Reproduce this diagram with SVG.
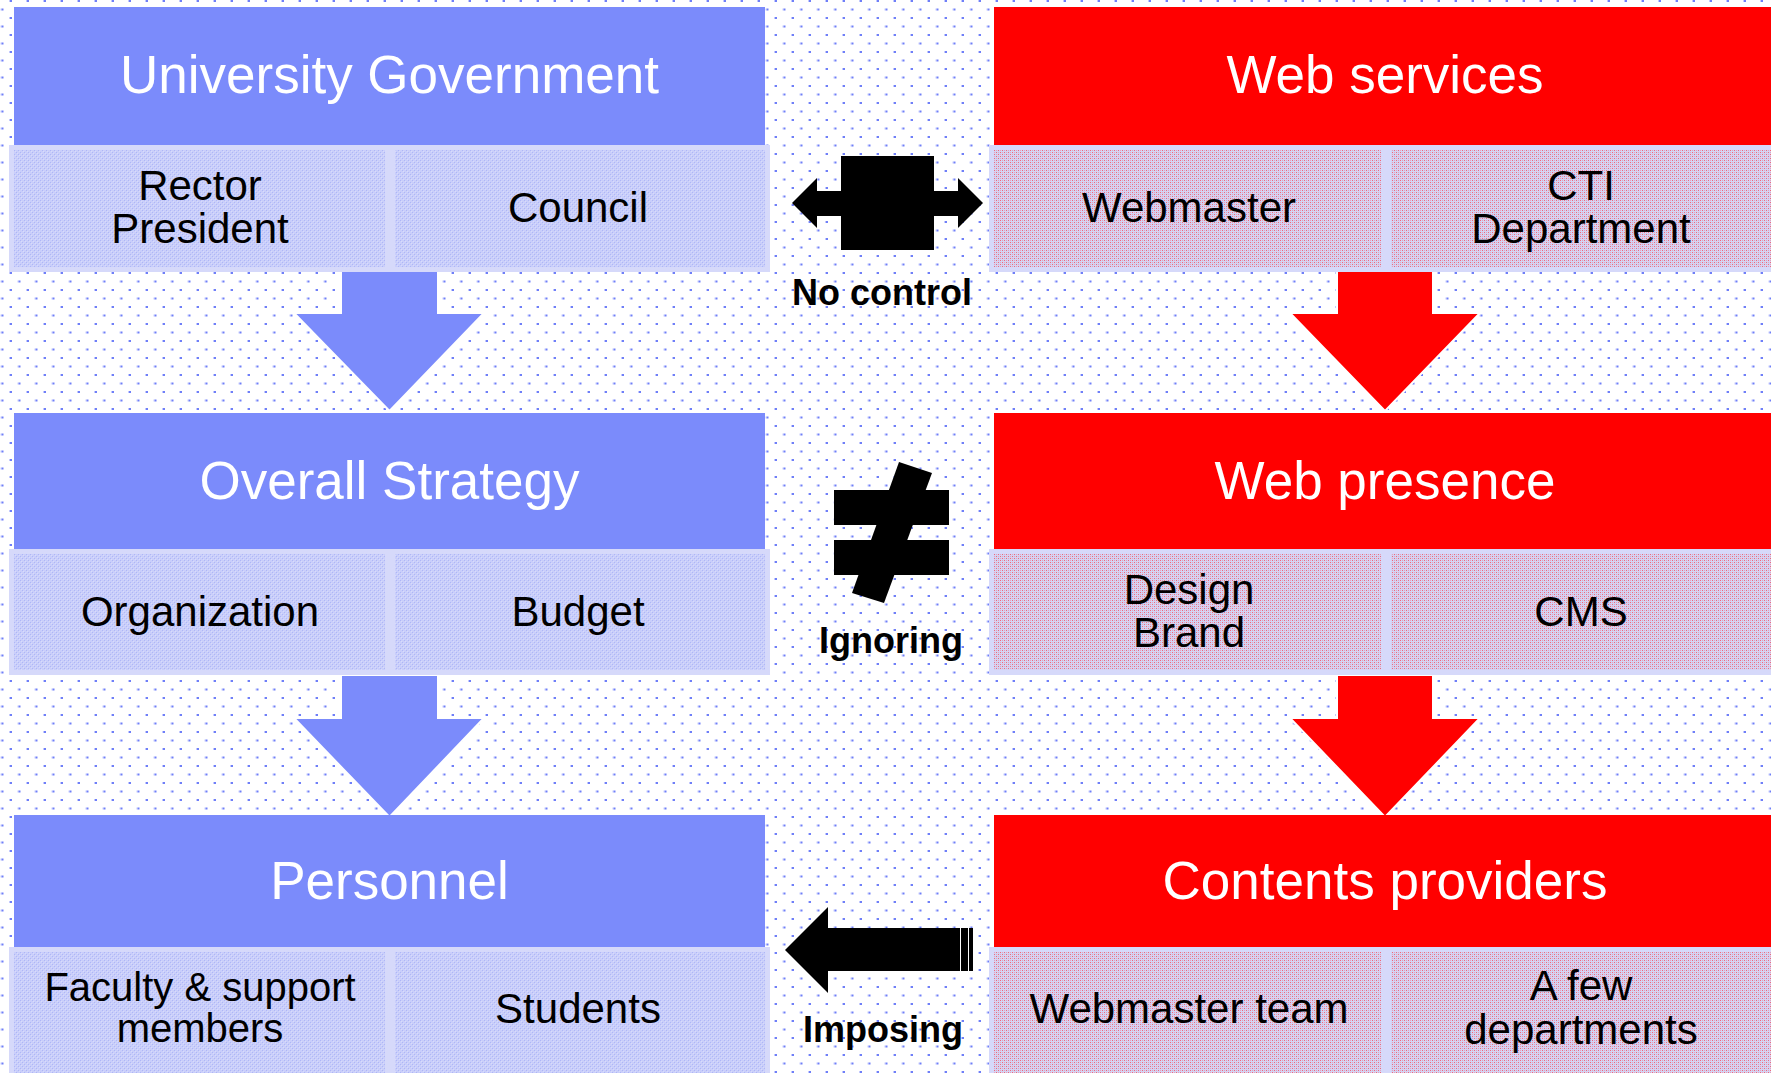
<svg xmlns="http://www.w3.org/2000/svg" width="1771" height="1073" viewBox="0 0 1771 1073">
<defs>
<pattern id="dots" x="0" y="0" width="17" height="17" patternUnits="userSpaceOnUse">
<rect x="9" y="0" width="1" height="2" fill="#c4cafc"/>
<rect x="10" y="0" width="2" height="2" fill="#6f7ff8"/>
<rect x="0.5" y="8.5" width="1" height="2" fill="#c4cafc"/>
<rect x="1.5" y="8.5" width="2" height="2" fill="#6f7ff8"/>
</pattern>
<pattern id="bluecell" x="0" y="0" width="4" height="4" patternUnits="userSpaceOnUse">
<rect width="4" height="4" fill="#c9cefa"/>
<rect x="0" y="0" width="1" height="1" fill="#aeb6f7"/>
<rect x="2" y="2" width="1" height="1" fill="#aeb6f7"/>
<rect x="1" y="1" width="1" height="1" fill="#d8dbfb"/>
<rect x="3" y="3" width="1" height="1" fill="#d8dbfb"/>
</pattern>
<pattern id="redcell" x="0" y="0" width="4" height="4" patternUnits="userSpaceOnUse">
<rect width="4" height="4" fill="#d4d3f3"/>
<rect x="0" y="0" width="1" height="1" fill="#ee6a7c"/>
<rect x="2" y="2" width="1" height="1" fill="#ee6a7c"/>
<rect x="2" y="0" width="1" height="1" fill="#e4a2bc"/>
<rect x="0" y="2" width="1" height="1" fill="#e4a2bc"/>
</pattern>
</defs>
<style>
.hb{fill:#7b8bfb}
.hr{fill:#ff0000}
.cb{fill:url(#bluecell);stroke:#d6d9fa;stroke-width:5}
.cr{fill:url(#redcell);stroke:#d6d9fa;stroke-width:5}
.ht{font-family:"Liberation Sans",Arial,sans-serif;font-size:53px;fill:#ffffff;text-anchor:middle}
.st{font-family:"Liberation Sans",Arial,sans-serif;font-size:42px;fill:#000000;text-anchor:middle}
.lb{font-family:"Liberation Sans",Arial,sans-serif;font-size:36px;font-weight:bold;fill:#000000;text-anchor:middle}
.ab{fill:#7b8bfb;stroke:#ffffff;stroke-width:2}
.ar{fill:#ff0000;stroke:#ffffff;stroke-width:2}
.bk{fill:#000000}
</style>
<rect width="1771" height="1073" fill="#ffffff"/>
<rect width="1771" height="1073" fill="url(#dots)"/>

<g id="connectors">
<polygon class="ab" points="341,271 438,271 438,313 484,313 389.5,411 294,313 341,313"/>
<polygon class="ab" points="341,675 438,675 438,718 484,718 389.5,817 294,718 341,718"/>
<polygon class="ar" points="1337,271 1433,271 1433,313 1480,313 1385,411 1290,313 1337,313"/>
<polygon class="ar" points="1337,675 1433,675 1433,718 1480,718 1385,817 1290,718 1337,718"/>
<g id="no-control">
<polygon class="bk" points="792,203 817,178 817,191 841,191 841,156 934,156 934,191 958,191 958,178 983,203 958,228 958,216 934,216 934,250 841,250 841,216 817,216 817,228"/>
<text class="lb" x="882" y="305">No control</text>
</g>
<g id="ignoring">
<rect class="bk" x="834" y="490" width="115" height="35"/>
<rect class="bk" x="834" y="540" width="115" height="35"/>
<polygon class="bk" points="899,462 932,473 884,603 852,593"/>
<text class="lb" x="891" y="653">Ignoring</text>
</g>
<g id="imposing">
<polygon class="bk" points="785,950 828,907 828,928 973,928 973,971 828,971 828,993"/>
<line x1="960.5" y1="928" x2="960.5" y2="971" stroke="#ffffff" stroke-width="1"/>
<line x1="968.5" y1="928" x2="968.5" y2="971" stroke="#ffffff" stroke-width="1"/>
<text class="lb" x="883" y="1042">Imposing</text>
</g>
</g>

<g id="university-government">
<rect class="hb" x="14" y="7" width="751" height="138"/>
<text class="ht" x="389.5" y="93">University Government</text>
<rect class="cb" x="11.5" y="147.5" width="376" height="122"/>
<rect class="cb" x="392.5" y="147.5" width="375" height="122"/>
<text class="st" x="200" y="200">Rector</text>
<text class="st" x="200" y="243">President</text>
<text class="st" x="578" y="222">Council</text>
</g>

<g id="overall-strategy">
<rect class="hb" x="14" y="413" width="751" height="136"/>
<text class="ht" x="389.5" y="499">Overall Strategy</text>
<rect class="cb" x="11.5" y="551.5" width="376" height="121"/>
<rect class="cb" x="392.5" y="551.5" width="375" height="121"/>
<text class="st" x="200" y="626">Organization</text>
<text class="st" x="578" y="626">Budget</text>
</g>

<g id="personnel">
<rect class="hb" x="14" y="815" width="751" height="132"/>
<text class="ht" x="389.5" y="899">Personnel</text>
<rect class="cb" x="11.5" y="949.5" width="376" height="126"/>
<rect class="cb" x="392.5" y="949.5" width="375" height="126"/>
<text class="st" x="200" y="1001" style="font-size:40px">Faculty &amp; support</text>
<text class="st" x="200" y="1042" style="font-size:40px">members</text>
<text class="st" x="578" y="1023">Students</text>
</g>

<g id="web-services">
<rect class="hr" x="994" y="7" width="782" height="138"/>
<text class="ht" x="1385" y="93">Web services</text>
<rect class="cr" x="991.5" y="147.5" width="392" height="122"/>
<rect class="cr" x="1388.5" y="147.5" width="392" height="122"/>
<text class="st" x="1189" y="222">Webmaster</text>
<text class="st" x="1581" y="200">CTI</text>
<text class="st" x="1581" y="243">Department</text>
</g>

<g id="web-presence">
<rect class="hr" x="994" y="413" width="782" height="136"/>
<text class="ht" x="1385" y="499">Web presence</text>
<rect class="cr" x="991.5" y="551.5" width="392" height="121"/>
<rect class="cr" x="1388.5" y="551.5" width="392" height="121"/>
<text class="st" x="1189" y="604">Design</text>
<text class="st" x="1189" y="647">Brand</text>
<text class="st" x="1581" y="626">CMS</text>
</g>

<g id="contents-providers">
<rect class="hr" x="994" y="815" width="782" height="132"/>
<text class="ht" x="1385" y="899">Contents providers</text>
<rect class="cr" x="991.5" y="949.5" width="392" height="126"/>
<rect class="cr" x="1388.5" y="949.5" width="392" height="126"/>
<text class="st" x="1189" y="1023">Webmaster team</text>
<text class="st" x="1581" y="1000">A few</text>
<text class="st" x="1581" y="1044">departments</text>
</g>
</svg>
